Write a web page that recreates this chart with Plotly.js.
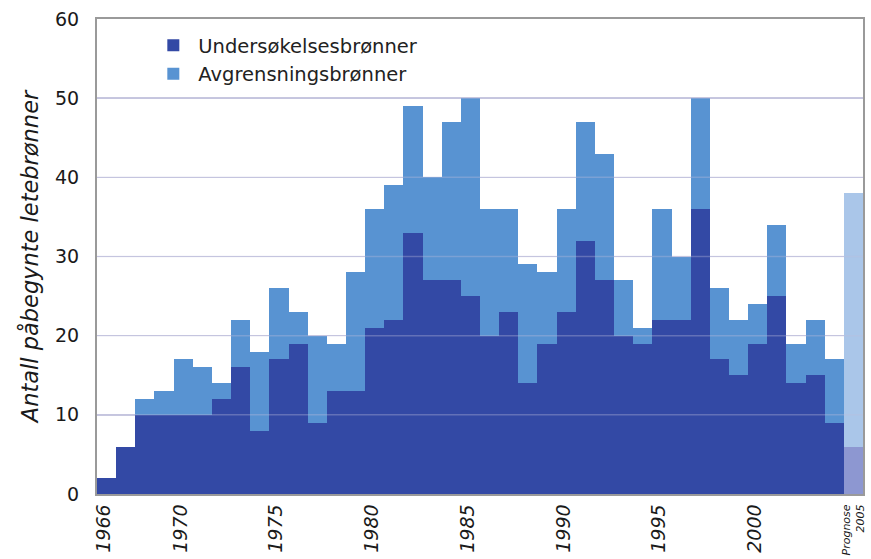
<!DOCTYPE html>
<html>
<head>
<meta charset="utf-8">
<script src="https://cdn.plot.ly/plotly-3.0.1.min.js"></script>
<style>html,body{margin:0;padding:0;background:#fff;}#chart{width:871px;height:559px;}</style>
</head>
<body>
<div id="chart"></div>
<script>
// Years (2005 is the forecast "Prognose")
const years = [1966,1967,1968,1969,1970,1971,1972,1973,1974,1975,1976,1977,1978,1979,1980,1981,1982,1983,1984,1985,1986,1987,1988,1989,1990,1991,1992,1993,1994,1995,1996,1997,1998,1999,2000,2001,2002,2003,2004,2005];
// Undersøkelsesbrønner (exploration wells)
const undersokelse = [2,6,10,10,10,10,12,16,8,17,19,9,13,13,21,22,33,27,27,25,20,23,14,19,23,32,27,20,19,22,22,36,17,15,19,25,14,15,9,6];
// Totals (stack tops)
const totals = [2,6,12,13,17,16,14,22,18,26,23,20,19,28,36,39,49,40,47,50,36,36,29,28,36,47,43,27,21,36,30,50,26,22,24,34,19,22,17,38];
// Avgrensningsbrønner (appraisal wells) = total - exploration
const avgrensning = totals.map((t,i)=>t-undersokelse[i]);
const tickYears = [1966,1970,1975,1980,1985,1990,1995,2000,2005];
const tickLabels = ['1966','1970','1975','1980','1985','1990','1995','2000','Prognose<br>2005'];
const forecastYear = 2005;

const darkCol = '#3349a5', lightCol = '#5893d2';
const darkFc = '#8d97d1', lightFc = '#aac6e9';

const traces = [
  {type:'bar', x:years, y:undersokelse, name:'Undersøkelsesbrønner',
   marker:{color: years.map(y=>y===forecastYear?darkFc:darkCol), line:{width:0}}},
  {type:'bar', x:years, y:avgrensning, name:'Avgrensningsbrønner',
   marker:{color: years.map(y=>y===forecastYear?lightFc:lightCol), line:{width:0}}}
];

const shapes = [];
for (let v=10; v<60; v+=10) {
  shapes.push({type:'line', xref:'paper', yref:'y', x0:0, x1:1, y0:v, y1:v, layer:'above',
    line:{color:'rgba(190,190,220,0.35)', width:1.5}});
}

// big year labels, small forecast label
const tickText = tickLabels.map(t => t.indexOf('<br>')>=0 ? t : '<span style="font-size:19px">'+t+'</span>');

const layout = {
  width:871, height:559,
  margin:{l:97, r:8, t:19, b:65, pad:0},
  paper_bgcolor:'#fff', plot_bgcolor:'#fff',
  barmode:'stack', bargap:0,
  font:{family:'"DejaVu Sans", Verdana, sans-serif', color:'#1a1a1a'},
  showlegend:true,
  legend:{x:0.067, y:0.985, xanchor:'left', yanchor:'top', traceorder:'normal',
    bgcolor:'rgba(0,0,0,0)', font:{size:19.5, color:'#222'}, itemwidth:40, tracegroupgap:0},
  xaxis:{range:[1965.5,2005.5], tickmode:'array', tickvals:tickYears, ticktext:tickText,
    tickangle:-90, tickfont:{size:11, style:'italic', color:'#1a1a1a'}, ticks:'',
    ticklabelstandoff:4, ticklabeloverflow:'allow',
    showgrid:false, zeroline:false, showline:true, linecolor:'#9a9a9a', linewidth:2, mirror:true,
    fixedrange:true},
  yaxis:{range:[0,60], dtick:10, tick0:0, tickfont:{size:19, color:'#1a1a1a'}, ticks:'',
    ticklabelstandoff:12,
    showgrid:true, gridcolor:'#c9c9e0', gridwidth:1.5, zeroline:false,
    showline:true, linecolor:'#9a9a9a', linewidth:2, mirror:true,
    title:{text:'Antall påbegynte letebrønner', font:{size:22.5, style:'italic', color:'#1a1a1a'}, standoff:10},
    fixedrange:true},
  shapes:shapes
};

Plotly.newPlot('chart', traces, layout, {displayModeBar:false, staticPlot:true});
</script>
</body>
</html>
